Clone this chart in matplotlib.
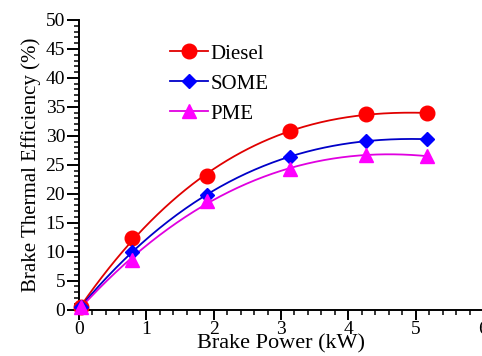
import numpy as np
import matplotlib
matplotlib.use("Agg")
import matplotlib.pyplot as plt
from matplotlib.ticker import MultipleLocator

power = [0.03, 0.79, 1.90, 3.13, 4.26, 5.17]
diesel = [0.5, 12.3, 23.1, 30.9, 33.7, 33.9]
some = [0.5, 10.0, 19.8, 26.4, 29.1, 29.4]
pme = [0.5, 8.6, 18.7, 24.2, 26.7, 26.5]

series = [
    ("Diesel", diesel, "#ff0000", "#e00000", "o", 10.5),
    ("SOME", some, "#0000ff", "#0000c8", "D", 7.5),
    ("PME", pme, "#ff00ff", "#e000e0", "^", 9.5),
]

plt.rcParams['font.family'] = 'serif'
plt.rcParams['font.serif'] = ['Liberation Serif']

fig = plt.figure(figsize=(4.82, 3.56), dpi=100)
ax = fig.add_axes([79/482, 1-309.5/356, 404/482, 289.5/356])

xs = np.linspace(min(power), max(power), 200)
for name, vals, mc, lc, m, ms in series:
    coef = np.polyfit(power, vals, 3)
    ax.plot(xs, np.polyval(coef, xs), color=lc, lw=1.3, clip_on=False)
    ax.plot(power, vals, linestyle='none', marker=m, color=mc, markersize=ms,
            clip_on=False, zorder=5)
    ax.plot([], [], color=lc, lw=1.3, marker=m, mfc=mc, mec=mc, markersize=ms, label=name)

ax.set_xlim(0, 6)
ax.set_ylim(0, 50)
ax.xaxis.set_major_locator(MultipleLocator(1))
ax.xaxis.set_minor_locator(MultipleLocator(0.2))
ax.yaxis.set_major_locator(MultipleLocator(5))
ax.yaxis.set_minor_locator(MultipleLocator(1))
for s in ['top', 'right']:
    ax.spines[s].set_visible(False)
for s in ['left', 'bottom']:
    ax.spines[s].set_linewidth(1.4)
ax.tick_params(which='major', direction='out', width=1.4, labelsize=14, pad=1)
ax.tick_params(axis='y', which='major', length=9)
ax.tick_params(axis='x', which='major', length=7.5)
ax.tick_params(which='minor', direction='out', length=3.5, width=1.1)

ax.set_xlabel("Brake Power (kW)", fontsize=16, labelpad=-3)
ax.set_ylabel("Brake Thermal Efficiency (%)", fontsize=15, labelpad=3)

leg = ax.legend(loc='upper left', bbox_to_anchor=(170/482, 1-44/356),
                bbox_transform=fig.transFigure, frameon=False,
                fontsize=15, handlelength=1.83, handletextpad=0.1, labelspacing=0.5,
                borderaxespad=0, borderpad=0)

fig.savefig("out.png", dpi=100)
